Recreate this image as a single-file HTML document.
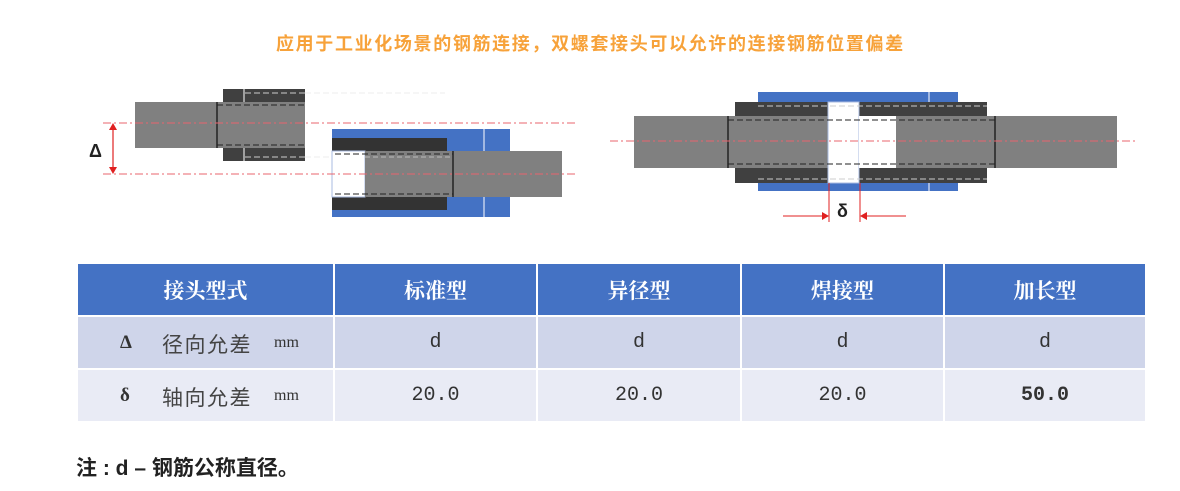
<!DOCTYPE html>
<html><head><meta charset="utf-8"><style>
body{margin:0;width:1180px;height:491px;background:#fff;position:relative;overflow:hidden;font-family:"Liberation Sans","Noto Sans CJK SC",sans-serif}
.t{position:absolute;left:276px;top:33px;font-size:18px;letter-spacing:1.65px;color:#f7a23a;font-weight:bold;white-space:nowrap;line-height:22px}
table{position:absolute;left:76px;top:262px;border-collapse:collapse;table-layout:fixed}
td{border:2px solid #fff;text-align:center;font-family:"Liberation Mono","Noto Serif CJK SC",monospace;font-size:20px;color:#333;padding:0}
tr.h td{background:#4472c4;color:#fff;font-weight:bold;height:51px;font-size:21px;font-family:"Liberation Serif","Noto Serif CJK SC",serif}
tr.a td{background:#cfd5ea;height:51px}
tr.b td{background:#e9ebf5;height:51px}
td.l{text-align:left;position:relative}
td.l b{position:absolute;left:42px;top:15px;font-family:"Liberation Serif",serif;font-size:19px}
td.l span.c{position:absolute;left:84px;top:12px;font-family:"Noto Sans CJK SC",sans-serif;font-size:21px;letter-spacing:1.5px;color:#444}
td.l span.m{position:absolute;left:196px;top:17px;font-family:"Liberation Serif",serif;font-size:16px}
.note{position:absolute;left:76px;top:454px;font-size:21px;color:#222;font-weight:bold;line-height:30px}
</style></head><body>
<div class="t">应用于工业化场景的钢筋连接，双螺套接头可以允许的连接钢筋位置偏差</div>
<svg width="1180" height="250" style="position:absolute;left:0;top:0">
<rect x="223" y="89" width="82" height="72" fill="#404040"/>
<line x1="244" y1="89" x2="244" y2="161" stroke="#fff" stroke-width="1"/>
<rect x="135" y="102" width="170" height="46" fill="#808080"/>
<line x1="217" y1="102" x2="217" y2="148" stroke="#222" stroke-width="1.5"/>
<line x1="217" y1="105" x2="305" y2="105" stroke="#222" stroke-dasharray="6,3"/>
<line x1="217" y1="145" x2="305" y2="145" stroke="#222" stroke-dasharray="6,3"/>
<line x1="245" y1="93" x2="305" y2="93" stroke="#ccc" stroke-dasharray="6,3"/>
<line x1="245" y1="157" x2="305" y2="157" stroke="#ccc" stroke-dasharray="6,3"/>
<line x1="305" y1="93" x2="445" y2="93" stroke="#eee" stroke-dasharray="6,3"/>
<line x1="305" y1="157" x2="332" y2="157" stroke="#eee" stroke-dasharray="6,3"/>
<rect x="332" y="129" width="178" height="88" fill="#4472c4"/>
<line x1="484" y1="129" x2="484" y2="217" stroke="#fff"/>
<rect x="332" y="138" width="115" height="13" fill="#333"/>
<rect x="332" y="197" width="115" height="13" fill="#333"/>
<rect x="332" y="151" width="33" height="46" fill="#fff" stroke="#aabbe0"/>
<rect x="365" y="151" width="197" height="46" fill="#808080"/>
<line x1="453" y1="151" x2="453" y2="197" stroke="#222" stroke-width="1.5"/>
<line x1="335" y1="154" x2="453" y2="154" stroke="#222" stroke-dasharray="6,3"/>
<line x1="335" y1="194" x2="453" y2="194" stroke="#222" stroke-dasharray="6,3"/>
<line x1="365" y1="157" x2="453" y2="157" stroke="#bbb" stroke-dasharray="5,3"/>
<line x1="103" y1="123" x2="575" y2="123" stroke="#e8646e" stroke-dasharray="8,3,2,3"/>
<line x1="103" y1="174" x2="575" y2="174" stroke="#e8646e" stroke-dasharray="8,3,2,3"/>
<line x1="113" y1="127" x2="113" y2="170" stroke="#e02020" stroke-width="1.2"/>
<polygon points="113,123 109,130 117,130" fill="#e02020"/>
<polygon points="113,174 109,167 117,167" fill="#e02020"/>
<text x="89" y="157" font-size="18" font-weight="bold" fill="#222" font-family="Liberation Sans">Δ</text>
<rect x="758" y="92" width="200" height="99" fill="#4472c4"/>
<line x1="929" y1="92" x2="929" y2="191" stroke="#fff"/>
<rect x="735" y="102" width="252" height="81" fill="#404040"/>
<rect x="634" y="116" width="483" height="52" fill="#808080"/>
<rect x="828" y="102" width="31" height="81" fill="#fff" stroke="#aabbe0"/>
<rect x="859" y="116" width="37" height="52" fill="#fff"/>
<line x1="758" y1="106" x2="987" y2="106" stroke="#ccc" stroke-dasharray="6,3"/>
<line x1="758" y1="179" x2="987" y2="179" stroke="#ccc" stroke-dasharray="6,3"/>
<line x1="728" y1="120" x2="995" y2="120" stroke="#222" stroke-dasharray="6,3"/>
<line x1="728" y1="164" x2="995" y2="164" stroke="#222" stroke-dasharray="6,3"/>
<line x1="728" y1="116" x2="728" y2="168" stroke="#222" stroke-width="1.5"/>
<line x1="995" y1="116" x2="995" y2="168" stroke="#222" stroke-width="1.5"/>
<line x1="610" y1="141" x2="1137" y2="141" stroke="#e8646e" stroke-dasharray="8,3,2,3"/>
<line x1="829" y1="183" x2="829" y2="222" stroke="#e02020"/>
<line x1="860" y1="183" x2="860" y2="222" stroke="#e02020"/>
<line x1="783" y1="216" x2="822" y2="216" stroke="#e02020"/>
<polygon points="829,216 822,212 822,220" fill="#e02020"/>
<line x1="867" y1="216" x2="906" y2="216" stroke="#e02020"/>
<polygon points="860,216 867,212 867,220" fill="#e02020"/>
<text x="837" y="217" font-size="18" font-weight="bold" fill="#222" font-family="Liberation Sans">δ</text>
</svg>
<table>
<colgroup><col style="width:257px"><col style="width:203px"><col style="width:204px"><col style="width:203px"><col style="width:202px"></colgroup>
<tr class="h"><td>接头型式</td><td>标准型</td><td>异径型</td><td>焊接型</td><td>加长型</td></tr>
<tr class="a"><td class="l"><b>Δ</b><span class="c">径向允差</span><span class="m">mm</span></td><td>d</td><td>d</td><td>d</td><td>d</td></tr>
<tr class="b"><td class="l"><b>δ</b><span class="c">轴向允差</span><span class="m">mm</span></td><td>20.0</td><td>20.0</td><td>20.0</td><td><b>50.0</b></td></tr>
</table>
<div class="note">注 : d – 钢筋公称直径。</div>
</body></html>
